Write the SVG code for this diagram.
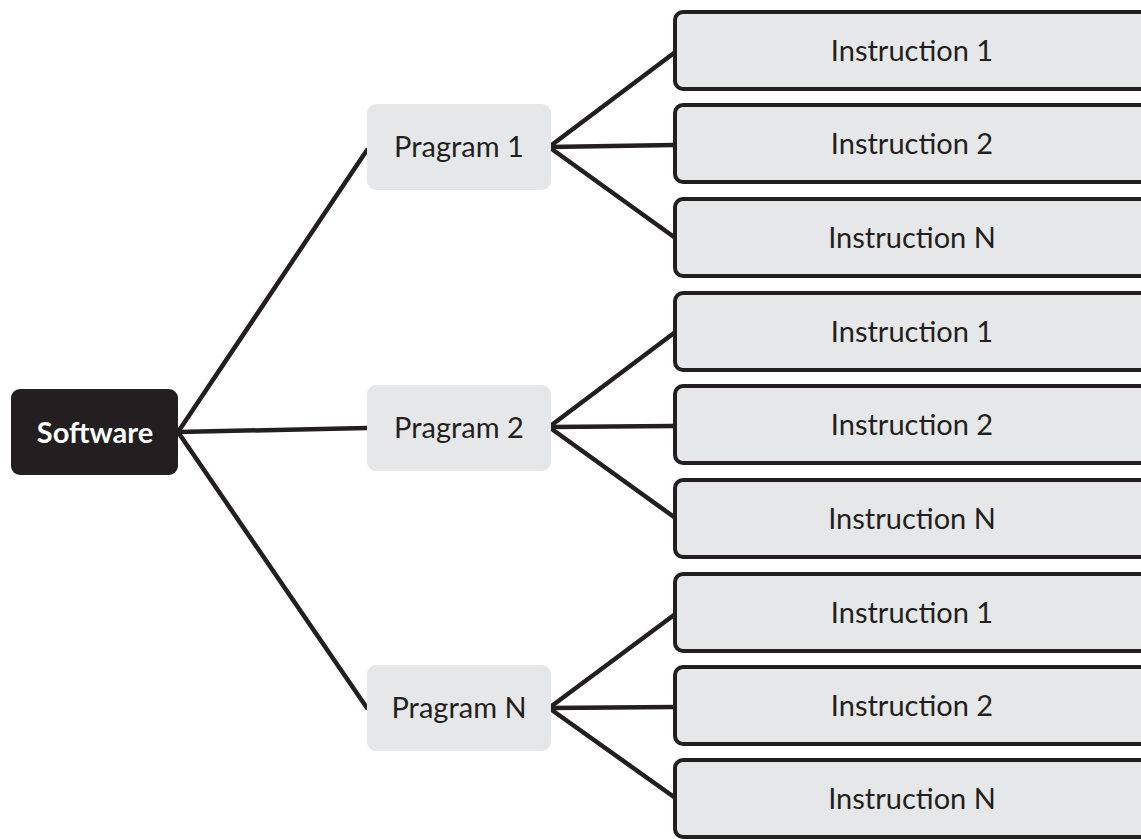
<svg xmlns="http://www.w3.org/2000/svg" width="1141" height="839" viewBox="0 0 1141 839">
<style>
.txt{font-family:Lato,"Open Sans","Liberation Sans",sans-serif;font-size:29px;fill:#231f20;text-anchor:middle}
.root{fill:#231f20}
.roott{font-family:Lato,"Open Sans","Liberation Sans",sans-serif;font-size:29px;font-weight:bold;fill:#ffffff;text-anchor:middle}
.prog{fill:#e6e7e8}
.ins{fill:#e6e7e8;stroke:#231f20;stroke-width:4}
.conn line{stroke:#231f20;stroke-width:4.5;stroke-linecap:round}
</style>
<rect width="1141" height="839" fill="#ffffff"/>
<g id="connectors" class="conn">
<line x1="178" y1="432" x2="367" y2="150"/>
<line x1="178" y1="432" x2="367" y2="428"/>
<line x1="178" y1="432" x2="367" y2="708"/>
<line x1="549" y1="147" x2="674" y2="53"/>
<line x1="549" y1="147" x2="674" y2="145"/>
<line x1="549" y1="147" x2="674" y2="237"/>
<line x1="549" y1="427" x2="674" y2="333"/>
<line x1="549" y1="427" x2="674" y2="426"/>
<line x1="549" y1="427" x2="674" y2="517"/>
<line x1="549" y1="708" x2="674" y2="615"/>
<line x1="549" y1="708" x2="674" y2="707"/>
<line x1="549" y1="708" x2="674" y2="797"/>
</g>
<g id="software"><rect class="root" x="11" y="389" width="167" height="86" rx="9"/><text class="roott" x="95" y="443">Software</text></g>
<g id="program1"><rect class="prog" x="367" y="104" width="184" height="86" rx="9"/><text class="txt" x="459" y="157">Pragram 1</text></g>
<g id="program2"><rect class="prog" x="367" y="385" width="184" height="86" rx="9"/><text class="txt" x="459" y="438">Pragram 2</text></g>
<g id="programN"><rect class="prog" x="367" y="665" width="184" height="86" rx="9"/><text class="txt" x="459" y="718">Pragram N</text></g>
<g id="p1i1"><rect class="ins" x="675" y="12" width="500" height="77" rx="8"/><text class="txt" x="912" y="61">Instruction 1</text></g>
<g id="p1i2"><rect class="ins" x="675" y="105" width="500" height="77" rx="8"/><text class="txt" x="912" y="154">Instruction 2</text></g>
<g id="p1iN"><rect class="ins" x="675" y="199" width="500" height="77" rx="8"/><text class="txt" x="912" y="248">Instruction N</text></g>
<g id="p2i1"><rect class="ins" x="675" y="293" width="500" height="77" rx="8"/><text class="txt" x="912" y="342">Instruction 1</text></g>
<g id="p2i2"><rect class="ins" x="675" y="386" width="500" height="77" rx="8"/><text class="txt" x="912" y="435">Instruction 2</text></g>
<g id="p2iN"><rect class="ins" x="675" y="480" width="500" height="77" rx="8"/><text class="txt" x="912" y="529">Instruction N</text></g>
<g id="pNi1"><rect class="ins" x="675" y="574" width="500" height="77" rx="8"/><text class="txt" x="912" y="623">Instruction 1</text></g>
<g id="pNi2"><rect class="ins" x="675" y="667" width="500" height="77" rx="8"/><text class="txt" x="912" y="716">Instruction 2</text></g>
<g id="pNiN"><rect class="ins" x="675" y="760" width="500" height="77" rx="8"/><text class="txt" x="912" y="809">Instruction N</text></g>
</svg>
